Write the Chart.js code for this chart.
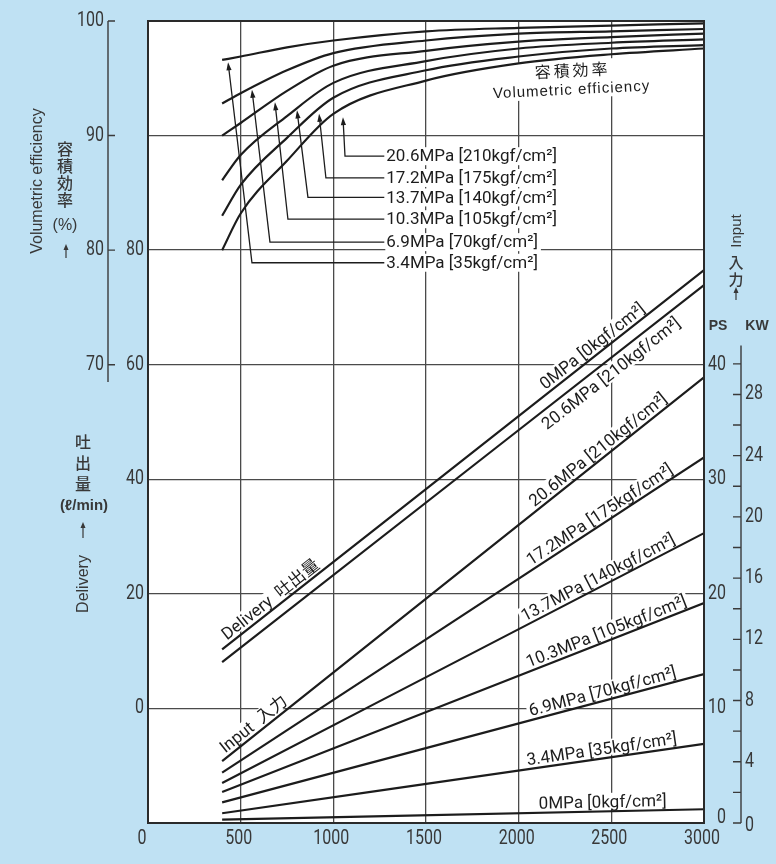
<!DOCTYPE html>
<html>
<head>
<meta charset="utf-8">
<script src="https://cdn.jsdelivr.net/npm/chart.js@4.4.1/dist/chart.umd.min.js"></script>
<style>
  html, body { margin: 0; padding: 0; background: #bfe1f3; }
  canvas { display: block; }
</style>
</head>
<body>
<canvas id="c" width="776" height="864"></canvas>
<script>
// ---- data ----
const rpmCurve = [400, 500, 750, 1000, 1500, 2000, 2500, 3000];
const eff34  = [96.6, 96.9, 97.7, 98.3, 99.1, 99.4, 99.6, 99.8];
const eff69  = [92.8, 93.7, 95.7, 97.2, 98.3, 98.9, 99.1, 99.3];
const eff103 = [90.0, 91.1, 93.9, 96.1, 97.4, 98.2, 98.6, 98.9];
const eff137 = [86.1, 88.3, 91.7, 94.6, 96.5, 97.6, 98.1, 98.4];
const eff172 = [83.0, 85.7, 89.8, 93.3, 95.7, 96.9, 97.6, 97.9];
const eff206 = [80.0, 83.2, 87.8, 91.9, 94.8, 96.3, 97.1, 97.6];

const rpmLine = [400, 3000];
const deliv0   = [10.3, 76.5];   // l/min
const deliv206 = [8.1, 73.9];
const ps206 = [5.4, 38.9];       // PS
const ps172 = [4.4, 31.9];
const ps137 = [3.5, 25.3];
const ps103 = [2.7, 19.2];
const ps69  = [1.8, 13.0];
const ps34  = [0.85, 6.9];
const ps0   = [0.3, 1.2];

const pressLabels = ['3.4MPa [35kgf/cm²]', '6.9MPa [70kgf/cm²]', '10.3MPa [105kgf/cm²]',
                     '13.7MPa [140kgf/cm²]', '17.2MPa [175kgf/cm²]', '20.6MPa [210kgf/cm²]'];
const xTicks = [0, 500, 1000, 1500, 2000, 2500, 3000];
const effTicks = [70, 80, 90, 100];
const delivGrid = [0, 20, 40, 60, 80, 100];
const delivTicks = [0, 20, 40, 60, 80];
const psTicks = [0, 10, 20, 30, 40];
const kwTicks = [0, 4, 8, 12, 16, 20, 24, 28];
const kwMinor = [0, 2, 4, 6, 8, 10, 12, 14, 16, 18, 20, 22, 24, 26, 28, 30];

// ---- look ----
const INK = '#1c1c1c';
const GRID = '#4a4a4a';
const TXT = '#383838';
const CJK = '"Noto Sans CJK JP"';
const SANS = '"Liberation Sans", sans-serif';
const TICK_FONT = '20px Roboto, sans-serif';
const LABEL_FONT = `17px Roboto, ${CJK}, sans-serif`;

const line = (xs, ys, axis) => ({
  data: xs.map((x, i) => ({ x, y: ys[i] })),
  yAxisID: axis,
  borderColor: INK,
  borderWidth: 2.2,
  pointRadius: 0,
  fill: false,
  cubicInterpolationMode: 'monotone'
});

const datasets = [
  line(rpmCurve, eff34, 'yE'), line(rpmCurve, eff69, 'yE'), line(rpmCurve, eff103, 'yE'),
  line(rpmCurve, eff137, 'yE'), line(rpmCurve, eff172, 'yE'), line(rpmCurve, eff206, 'yE'),
  line(rpmLine, deliv0, 'yD'), line(rpmLine, deliv206, 'yD'),
  line(rpmLine, ps206, 'yP'), line(rpmLine, ps172, 'yP'), line(rpmLine, ps137, 'yP'),
  line(rpmLine, ps103, 'yP'), line(rpmLine, ps69, 'yP'), line(rpmLine, ps34, 'yP'),
  line(rpmLine, ps0, 'yP')
];

// labels riding on straight lines: dataset, text, rpm where text ends/starts, side (-1 above, 1 below)
const lineLabels = [
  { ds: 6, text: '0MPa [0kgf/cm²]', at: 2700, align: 'right', side: -1 },
  { ds: 7, text: '20.6MPa [210kgf/cm²]', at: 2820, align: 'right', side: 1 },
  { ds: 8, text: '20.6MPa [210kgf/cm²]', at: 2820, align: 'right', side: -1 },
  { ds: 9, text: '17.2MPa [175kgf/cm²]', at: 2850, align: 'right', side: -1 },
  { ds: 10, text: '13.7MPa [140kgf/cm²]', at: 2860, align: 'right', side: -1 },
  { ds: 11, text: '10.3MPa [105kgf/cm²]', at: 2920, align: 'right', side: -1 },
  { ds: 12, text: '6.9MPa [70kgf/cm²]', at: 2860, align: 'right', side: -1 },
  { ds: 13, text: '3.4MPa [35kgf/cm²]', at: 2860, align: 'right', side: -1 },
  { ds: 14, text: '0MPa [0kgf/cm²]', at: 2800, align: 'right', side: -1 },
  { ds: 6, text: 'Delivery  吐出量', at: 440, align: 'left', side: -1 },
  { ds: 8, text: 'Input  入力', at: 430, align: 'left', side: -1 }
];

// leader lines for the efficiency curves (rpm, %) : arrow tip on curve, bend, then to the text
const leaders = [
  { tip: [432, 96.4], bend: [561, 78.9] },
  { tip: [561, 94.0], bend: [658, 80.7] },
  { tip: [685, 92.9], bend: [755, 82.7] },
  { tip: [804, 92.2], bend: [863, 84.6] },
  { tip: [923, 91.9], bend: [960, 86.3] },
  { tip: [1052, 91.6], bend: [1063, 88.2] }
];
const leaderTextRpm = 1275;

function lineGeom(chart, L) {
  const meta = chart.getDatasetMeta(L.ds);
  const a = meta.data[0], b = meta.data[meta.data.length - 1];
  const px = chart.scales.x.getPixelForValue(L.at);
  const t = (px - a.x) / (b.x - a.x);
  return { x: px, y: a.y + t * (b.y - a.y), ang: Math.atan2(b.y - a.y, b.x - a.x) };
}

function drawLabels(chart, bgOnly) {
  const ctx = chart.ctx, xs = chart.scales.x, yE = chart.scales.yE;
  ctx.save();
  ctx.font = LABEL_FONT;
  const fs = 17;
  lineLabels.forEach(L => {
    const g = lineGeom(chart, L);
    const w = ctx.measureText(L.text).width;
    ctx.save();
    ctx.translate(g.x, g.y);
    ctx.rotate(g.ang);
    const x0 = L.align === 'right' ? -w - 2 : -2;
    if (bgOnly) {
      ctx.fillStyle = '#fff';
      if (L.side < 0) ctx.fillRect(x0, -4 - fs * 0.85, w + 4, fs * 0.85 + 1.5);
      else ctx.fillRect(x0, 3, w + 4, fs * 1.0);
    } else {
      ctx.fillStyle = INK;
      ctx.textAlign = L.align;
      ctx.textBaseline = L.side < 0 ? 'alphabetic' : 'top';
      ctx.fillText(L.text, 0, L.side < 0 ? -4 : 5);
    }
    ctx.restore();
  });
  // pressure legend for the efficiency curves
  const tx = xs.getPixelForValue(leaderTextRpm) + 2;
  leaders.forEach((ld, i) => {
    const y = yE.getPixelForValue(ld.bend[1]);
    const w = ctx.measureText(pressLabels[i]).width;
    if (bgOnly) {
      ctx.fillStyle = '#fff';
      ctx.fillRect(tx - 1, y - 9, w + 4, 18);
    } else {
      ctx.fillStyle = INK;
      ctx.textAlign = 'left';
      ctx.textBaseline = 'middle';
      ctx.fillText(pressLabels[i], tx, y + 1);
    }
  });
  // curve family title
  const cx = xs.getPixelForValue(2280);
  const cy = yE.getPixelForValue(95.7);
  ctx.save();
  ctx.translate(cx, cy);
  ctx.rotate(-0.05);
  ctx.textAlign = 'center';
  ctx.textBaseline = 'middle';
  if (bgOnly) {
    ctx.fillStyle = '#fff';
    ctx.fillRect(-86, -10, 172, 38);
  } else {
    ctx.fillStyle = INK;
    ctx.font = `16px ${CJK}`;
    ['容', '積', '効', '率'].forEach((ch, i) => ctx.fillText(ch, -28 + i * 19, 0));
    ctx.letterSpacing = '1px';
    ctx.font = '15px ' + SANS;
    ctx.fillText('Volumetric efficiency', 0, 20);
  }
  ctx.restore();
  ctx.restore();
}

function arrowUp(ctx, x, yTop, yBot) {
  ctx.beginPath();
  ctx.moveTo(x, yBot);
  ctx.lineTo(x, yTop + 4);
  ctx.stroke();
  ctx.beginPath();
  ctx.moveTo(x, yTop);
  ctx.lineTo(x - 2.5, yTop + 6);
  ctx.lineTo(x + 2.5, yTop + 6);
  ctx.closePath();
  ctx.fill();
}

// condensed tick digits like the print
function narrowText(ctx, text, x, y, align) {
  ctx.save();
  ctx.translate(x, y);
  ctx.scale(0.8, 1);
  ctx.textAlign = align;
  ctx.fillText(text, 0, 0);
  ctx.restore();
}

function drawTickLabels(chart) {
  const ctx = chart.ctx, s = chart.scales;
  ctx.save();
  ctx.font = TICK_FONT;
  ctx.fillStyle = TXT;
  ctx.textBaseline = 'middle';
  xTicks.forEach(v => narrowText(ctx, String(v), s.x.getPixelForValue(v) - (v === 0 ? 6 : 2), s.x.top + 16, 'center'));
  effTicks.forEach(v => narrowText(ctx, String(v), s.yE.right - 6, s.yE.getPixelForValue(v), 'right'));
  delivTicks.forEach(v => narrowText(ctx, String(v), s.yD.right - 4, s.yD.getPixelForValue(v), 'right'));
  psTicks.forEach(v => narrowText(ctx, String(v), s.yP.right, s.yP.getPixelForValue(v) - (v === 0 ? 5 : 0), 'right'));
  kwTicks.forEach(v => narrowText(ctx, String(v), s.yK.left + 19, s.yK.getPixelForValue(v) + (v === 0 ? 3 : 0), 'left'));
  ctx.restore();
}

function drawDecor(chart) {
  const ctx = chart.ctx, a = chart.chartArea;
  const xs = chart.scales.x, yE = chart.scales.yE, yK = chart.scales.yK;
  ctx.save();
  // plot frame
  ctx.strokeStyle = '#2a2a2a';
  ctx.lineWidth = 2;
  ctx.strokeRect(a.left, a.top, a.right - a.left, a.bottom - a.top);

  // efficiency axis (only upper part)
  ctx.strokeStyle = '#3a3a3a';
  ctx.lineWidth = 1.4;
  const ex = yE.right - 2;
  ctx.beginPath();
  ctx.moveTo(ex, yE.getPixelForValue(100));
  ctx.lineTo(ex, yE.getPixelForValue(68.5));
  effTicks.forEach(v => {
    const y = yE.getPixelForValue(v);
    ctx.moveTo(ex, y);
    ctx.lineTo(ex + 7, y);
  });
  ctx.stroke();

  // kW axis
  const kx = yK.left + 15;
  ctx.beginPath();
  ctx.moveTo(kx, yK.getPixelForValue(0));
  ctx.lineTo(kx, yK.getPixelForValue(31.2));
  kwMinor.forEach(v => {
    const y = yK.getPixelForValue(v);
    ctx.moveTo(kx - 8, y);
    ctx.lineTo(kx, y);
  });
  ctx.stroke();

  // leaders with arrows
  ctx.strokeStyle = INK;
  ctx.fillStyle = INK;
  ctx.lineWidth = 1.3;
  const tx = xs.getPixelForValue(leaderTextRpm);
  leaders.forEach(ld => {
    const px = xs.getPixelForValue(ld.tip[0]), py = yE.getPixelForValue(ld.tip[1]);
    const bx = xs.getPixelForValue(ld.bend[0]), by = yE.getPixelForValue(ld.bend[1]);
    const ang = Math.atan2(py - by, px - bx);
    ctx.beginPath();
    ctx.moveTo(tx, by);
    ctx.lineTo(bx, by);
    ctx.lineTo(px - Math.cos(ang) * 5, py - Math.sin(ang) * 5);
    ctx.stroke();
    ctx.save();
    ctx.translate(px, py);
    ctx.rotate(ang);
    ctx.beginPath();
    ctx.moveTo(0, 0);
    ctx.lineTo(-8, -2.6);
    ctx.lineTo(-8, 2.6);
    ctx.closePath();
    ctx.fill();
    ctx.restore();
  });

  // axis titles outside the plot
  ctx.fillStyle = TXT;
  ctx.strokeStyle = TXT;
  ctx.lineWidth = 1.2;
  ctx.textAlign = 'center';
  ctx.textBaseline = 'middle';

  ctx.save();
  ctx.translate(38, 181);
  ctx.rotate(-Math.PI / 2);
  ctx.font = '16px ' + SANS;
  ctx.fillText('Volumetric efficiency', 0, 0);
  ctx.restore();

  ctx.font = `500 16px ${CJK}`;
  ['容', '積', '効', '率'].forEach((ch, i) => ctx.fillText(ch, 65, 149 + i * 17));
  ctx.font = '16px ' + SANS;
  ctx.fillText('(%)', 65, 226);
  arrowUp(ctx, 66, 244, 258);

  ctx.font = `500 16px ${CJK}`;
  ['吐', '出', '量'].forEach((ch, i) => ctx.fillText(ch, 83, 442 + i * 21));
  ctx.font = 'bold 15px ' + SANS;
  ctx.fillText('(ℓ/min)', 84, 506);
  arrowUp(ctx, 83, 522, 538);
  ctx.save();
  ctx.translate(84, 584);
  ctx.rotate(-Math.PI / 2);
  ctx.font = '16px ' + SANS;
  ctx.fillText('Delivery', 0, 0);
  ctx.restore();

  ctx.save();
  ctx.translate(737, 231);
  ctx.rotate(-Math.PI / 2);
  ctx.font = '15px ' + SANS;
  ctx.fillText('Input', 0, 0);
  ctx.restore();
  ctx.font = `500 15px ${CJK}`;
  ctx.fillText('入', 736, 262);
  ctx.fillText('力', 736, 279);
  arrowUp(ctx, 736, 287, 300);

  ctx.font = 'bold 14px ' + SANS;
  ctx.fillText('PS', 718, 326);
  ctx.fillText('KW', 757, 326);
  ctx.restore();
}

const decor = {
  id: 'decor',
  beforeDraw(chart) {
    const { ctx, chartArea: a } = chart;
    ctx.save();
    ctx.fillStyle = '#fff';
    ctx.fillRect(a.left, a.top, a.right - a.left, a.bottom - a.top);
    ctx.restore();
  },
  beforeDatasetsDraw(chart) { drawLabels(chart, true); },
  afterDatasetsDraw(chart) {
    drawDecor(chart);
    drawLabels(chart, false);
    drawTickLabels(chart);
  }
};

const setTicks = list => scale => { scale.ticks = list.map(v => ({ value: v })); };

new Chart(document.getElementById('c').getContext('2d'), {
  type: 'line',
  data: { datasets },
  plugins: [decor],
  options: {
    responsive: false,
    animation: false,
    devicePixelRatio: 1,
    layout: { padding: { top: 21, left: 0, right: 0, bottom: 0 } },
    plugins: { legend: { display: false }, tooltip: { enabled: false } },
    scales: {
      x: {
        type: 'linear', min: 0, max: 3000,
        afterBuildTicks: setTicks(xTicks),
        afterFit: s => { s.height = 41; },
        grid: { color: GRID, lineWidth: 1.3, drawTicks: false },
        border: { display: false },
        ticks: { display: false }
      },
      yE: {
        type: 'linear', position: 'left', weight: 1, min: 30, max: 100,
        afterBuildTicks: setTicks(effTicks),
        afterFit: s => { s.width = 110; },
        grid: { display: false, drawTicks: false },
        border: { display: false },
        ticks: { display: false }
      },
      yD: {
        type: 'linear', position: 'left', weight: 0, min: -20, max: 120,
        afterBuildTicks: setTicks(delivGrid),
        afterFit: s => { s.width = 38; },
        grid: { color: GRID, lineWidth: 1.3, drawTicks: false },
        border: { display: false },
        ticks: { display: false }
      },
      yP: {
        type: 'linear', position: 'right', weight: 0, min: 0, max: 70,
        afterBuildTicks: setTicks(psTicks),
        afterFit: s => { s.width = 22; },
        grid: { display: false, drawTicks: false },
        border: { display: false },
        ticks: { display: false }
      },
      yK: {
        type: 'linear', position: 'right', weight: 1, min: 0, max: 52.4,
        afterBuildTicks: setTicks(kwTicks),
        afterFit: s => { s.width = 50; },
        grid: { display: false, drawTicks: false },
        border: { display: false },
        ticks: { display: false }
      }
    }
  }
});
</script>
</body>
</html>
